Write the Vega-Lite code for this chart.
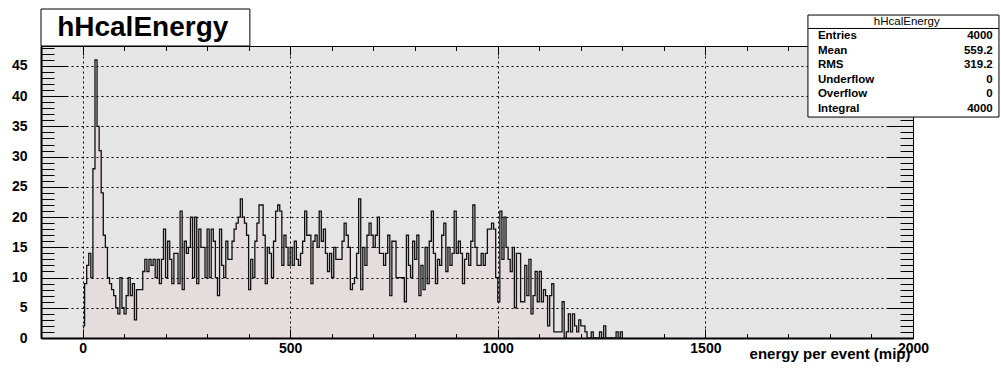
{
"$schema": "https://vega.github.io/schema/vega-lite/v6.json",
"width": 872, "height": 292,
"autosize": {"type": "none"},
"padding": {"left": 41, "top": 46, "right": 88, "bottom": 35},
"background": "white",
"config": {"view": {"fill": "#e5e5e5", "stroke": "#000", "strokeWidth": 1}, "font": "Liberation Sans"},
"datasets": {
"hist": [
{"energy":0,"count":2},{"energy":5,"count":9},{"energy":10,"count":12},{"energy":15,"count":14},{"energy":20,"count":10},{"energy":25,"count":28},{"energy":30,"count":46},{"energy":35,"count":35},{"energy":40,"count":31},{"energy":45,"count":24},
{"energy":50,"count":17},{"energy":55,"count":15},{"energy":60,"count":10},{"energy":65,"count":9},{"energy":70,"count":8},{"energy":75,"count":7},{"energy":80,"count":5},{"energy":85,"count":4},{"energy":90,"count":10},{"energy":95,"count":5},
{"energy":100,"count":4},{"energy":105,"count":7},{"energy":110,"count":10},{"energy":115,"count":7},{"energy":120,"count":9},{"energy":125,"count":3},{"energy":130,"count":8},{"energy":135,"count":8},{"energy":140,"count":8},{"energy":145,"count":11},
{"energy":150,"count":13},{"energy":155,"count":11},{"energy":160,"count":13},{"energy":165,"count":12},{"energy":170,"count":13},{"energy":175,"count":10},{"energy":180,"count":13},{"energy":185,"count":9},{"energy":190,"count":13},{"energy":195,"count":18},
{"energy":200,"count":10},{"energy":205,"count":16},{"energy":210,"count":13},{"energy":215,"count":9},{"energy":220,"count":14},{"energy":225,"count":14},{"energy":230,"count":9},{"energy":235,"count":21},{"energy":240,"count":8},{"energy":245,"count":16},
{"energy":250,"count":14},{"energy":255,"count":15},{"energy":260,"count":20},{"energy":265,"count":10},{"energy":270,"count":20},{"energy":275,"count":9},{"energy":280,"count":18},{"energy":285,"count":15},{"energy":290,"count":15},{"energy":295,"count":10},
{"energy":300,"count":18},{"energy":305,"count":10},{"energy":310,"count":18},{"energy":315,"count":16},{"energy":320,"count":10},{"energy":325,"count":7},{"energy":330,"count":18},{"energy":335,"count":12},{"energy":340,"count":10},{"energy":345,"count":16},
{"energy":350,"count":13},{"energy":355,"count":13},{"energy":360,"count":16},{"energy":365,"count":18},{"energy":370,"count":19},{"energy":375,"count":20},{"energy":380,"count":23},{"energy":385,"count":20},{"energy":390,"count":19},{"energy":395,"count":17},
{"energy":400,"count":8},{"energy":405,"count":13},{"energy":410,"count":10},{"energy":415,"count":16},{"energy":420,"count":19},{"energy":425,"count":22},{"energy":430,"count":22},{"energy":435,"count":17},{"energy":440,"count":9},{"energy":445,"count":15},
{"energy":450,"count":14},{"energy":455,"count":10},{"energy":460,"count":16},{"energy":465,"count":21},{"energy":470,"count":22},{"energy":475,"count":21},{"energy":480,"count":12},{"energy":485,"count":17},{"energy":490,"count":15},{"energy":495,"count":12},
{"energy":500,"count":15},{"energy":505,"count":12},{"energy":510,"count":16},{"energy":515,"count":13},{"energy":520,"count":12},{"energy":525,"count":14},{"energy":530,"count":16},{"energy":535,"count":21},{"energy":540,"count":17},{"energy":545,"count":17},
{"energy":550,"count":9},{"energy":555,"count":16},{"energy":560,"count":17},{"energy":565,"count":15},{"energy":570,"count":21},{"energy":575,"count":16},{"energy":580,"count":18},{"energy":585,"count":14},{"energy":590,"count":11},{"energy":595,"count":14},
{"energy":600,"count":10},{"energy":605,"count":15},{"energy":610,"count":13},{"energy":615,"count":13},{"energy":620,"count":13},{"energy":625,"count":16},{"energy":630,"count":19},{"energy":635,"count":17},{"energy":640,"count":15},{"energy":645,"count":8},
{"energy":650,"count":9},{"energy":655,"count":10},{"energy":660,"count":14},{"energy":665,"count":23},{"energy":670,"count":8},{"energy":675,"count":15},{"energy":680,"count":12},{"energy":685,"count":17},{"energy":690,"count":19},{"energy":695,"count":17},
{"energy":700,"count":15},{"energy":705,"count":17},{"energy":710,"count":20},{"energy":715,"count":14},{"energy":720,"count":14},{"energy":725,"count":12},{"energy":730,"count":14},{"energy":735,"count":17},{"energy":740,"count":7},{"energy":745,"count":16},
{"energy":750,"count":16},{"energy":755,"count":10},{"energy":760,"count":10},{"energy":765,"count":10},{"energy":770,"count":10},{"energy":775,"count":6},{"energy":780,"count":17},{"energy":785,"count":12},{"energy":790,"count":10},{"energy":795,"count":16},
{"energy":800,"count":13},{"energy":805,"count":17},{"energy":810,"count":7},{"energy":815,"count":12},{"energy":820,"count":8},{"energy":825,"count":15},{"energy":830,"count":9},{"energy":835,"count":16},{"energy":840,"count":21},{"energy":845,"count":14},
{"energy":850,"count":9},{"energy":855,"count":13},{"energy":860,"count":12},{"energy":865,"count":17},{"energy":870,"count":19},{"energy":875,"count":11},{"energy":880,"count":15},{"energy":885,"count":12},{"energy":890,"count":14},{"energy":895,"count":21},
{"energy":900,"count":14},{"energy":905,"count":16},{"energy":910,"count":14},{"energy":915,"count":9},{"energy":920,"count":13},{"energy":925,"count":14},{"energy":930,"count":12},{"energy":935,"count":16},{"energy":940,"count":22},{"energy":945,"count":15},
{"energy":950,"count":12},{"energy":955,"count":12},{"energy":960,"count":14},{"energy":965,"count":12},{"energy":970,"count":14},{"energy":975,"count":18},{"energy":980,"count":18},{"energy":985,"count":19},{"energy":990,"count":18},{"energy":995,"count":10},
{"energy":1000,"count":6},{"energy":1005,"count":21},{"energy":1010,"count":13},{"energy":1015,"count":20},{"energy":1020,"count":15},{"energy":1025,"count":13},{"energy":1030,"count":11},{"energy":1035,"count":15},{"energy":1040,"count":5},{"energy":1045,"count":14},
{"energy":1050,"count":14},{"energy":1055,"count":6},{"energy":1060,"count":6},{"energy":1065,"count":12},{"energy":1070,"count":7},{"energy":1075,"count":13},{"energy":1080,"count":4},{"energy":1085,"count":7},{"energy":1090,"count":11},{"energy":1095,"count":6},
{"energy":1100,"count":11},{"energy":1105,"count":6},{"energy":1110,"count":8},{"energy":1115,"count":7},{"energy":1120,"count":2},{"energy":1125,"count":7},{"energy":1130,"count":9},{"energy":1135,"count":1},{"energy":1140,"count":1},{"energy":1145,"count":1},
{"energy":1150,"count":1},{"energy":1155,"count":6},{"energy":1160,"count":0},{"energy":1165,"count":1},{"energy":1170,"count":4},{"energy":1175,"count":1},{"energy":1180,"count":4},{"energy":1185,"count":2},{"energy":1190,"count":1},{"energy":1195,"count":3},
{"energy":1200,"count":2},{"energy":1205,"count":2},{"energy":1210,"count":1},{"energy":1215,"count":0},{"energy":1220,"count":0},{"energy":1225,"count":1},{"energy":1230,"count":0},{"energy":1235,"count":0},{"energy":1240,"count":0},{"energy":1245,"count":1},
{"energy":1250,"count":0},{"energy":1255,"count":2},{"energy":1260,"count":0},{"energy":1265,"count":0},{"energy":1270,"count":0},{"energy":1275,"count":0},{"energy":1280,"count":0},{"energy":1285,"count":1},{"energy":1290,"count":0},{"energy":1295,"count":1},
{"energy":1300,"count":0}
],
"title": [{"name": "hHcalEnergy"}],
"stats": [{"header": "hHcalEnergy", "labels": ["Entries", "Mean", "RMS", "Underflow", "Overflow", "Integral"], "values": ["4000", "559.2", "319.2", "0", "0", "4000"]}]
},
"resolve": {"axis": {"x": "independent", "y": "independent"}},
"layer": [
{
"data": {"name": "hist"},
"mark": {"type": "area", "interpolate": "step-after", "fill": "#ff2020", "fillOpacity": 0.035},
"encoding": {
"x": {"field": "energy", "type": "quantitative", "scale": {"domain": [-100, 2000], "nice": false, "zero": false},
 "axis": {"orient": "bottom", "values": [0, 500, 1000, 1500, 2000], "format": "d", "ticks": false, "grid": true, "gridColor": "#000", "gridDash": [2, 3], "gridWidth": 1, "gridOpacity": 1,
  "domain": true, "domainColor": "#000", "domainWidth": 2, "labelFont": "Liberation Sans", "labelFontWeight": "bold", "labelFontSize": 14, "labelColor": "#000", "labelPadding": 3, "labelFlush": false, "labelOverlap": false,
  "title": "energy per event (mip)", "titleFont": "Liberation Sans", "titleFontWeight": "bold", "titleFontSize": 15, "titleColor": "#000", "titleAlign": "right", "titleAnchor": "end", "titleX": 869, "titleY": 20, "titleBaseline": "alphabetic"}},
"y": {"field": "count", "type": "quantitative", "scale": {"domain": [0, 48.3], "nice": false, "zero": true},
 "axis": {"orient": "left", "values": [0, 5, 10, 15, 20, 25, 30, 35, 40, 45], "format": "d", "ticks": false, "grid": true, "gridColor": "#000", "gridDash": [2, 3], "gridWidth": 1, "gridOpacity": 1,
  "domain": true, "domainColor": "#000", "domainWidth": 2, "labelFont": "Liberation Sans", "labelFontWeight": "bold", "labelFontSize": 14, "labelColor": "#000", "labelPadding": 14, "labelFlush": false, "labelOverlap": false, "title": null}}
}
},
{
"data": {"name": "hist"},
"mark": {"type": "line", "interpolate": "step-after", "stroke": "#111", "strokeWidth": 1.3},
"encoding": {
"x": {"field": "energy", "type": "quantitative", "scale": {"domain": [-100, 2000], "nice": false, "zero": false},
 "axis": {"orient": "top", "values": [0, 500, 1000, 1500, 2000], "labels": false, "grid": false, "domain": false, "tickSize": -9, "tickColor": "#000", "tickWidth": 1, "title": null}},
"y": {"field": "count", "type": "quantitative", "scale": {"domain": [0, 48.3], "nice": false, "zero": true},
 "axis": {"orient": "right", "values": [0, 5, 10, 15, 20, 25, 30, 35, 40, 45], "labels": false, "grid": false, "domain": false, "tickSize": -26, "tickColor": "#000", "tickWidth": 1, "title": null}}
}
},
{
"data": {"name": "title"},
"mark": {"type": "rect", "fill": "white", "stroke": "#000", "strokeWidth": 1},
"encoding": {
"x": {"datum": -100, "type": "quantitative", "scale": {"domain": [-100, 2000], "nice": false, "zero": false},
 "axis": {"orient": "bottom", "values": [0, 500, 1000, 1500, 2000], "labels": false, "grid": false, "domain": false, "tickSize": -9, "tickColor": "#000", "tickWidth": 1, "title": null}},
"x2": {"datum": 403},
"y": {"datum": 48.3, "type": "quantitative", "scale": {"domain": [0, 48.3], "nice": false, "zero": true},
 "axis": {"orient": "left", "values": [0, 5, 10, 15, 20, 25, 30, 35, 40, 45], "labels": false, "grid": false, "domain": false, "tickSize": -26, "tickColor": "#000", "tickWidth": 1, "title": null}},
"y2": {"datum": 54.42}
}
},
{
"data": {"name": "title"},
"mark": {"type": "text", "font": "Liberation Sans", "fontWeight": "bold", "fontSize": 28, "align": "center", "baseline": "alphabetic", "color": "#000"},
"encoding": {
"text": {"field": "name", "type": "nominal"},
"x": {"datum": 145, "type": "quantitative", "scale": {"domain": [-100, 2000], "nice": false, "zero": false},
 "axis": {"orient": "bottom", "values": [-100, 0, 100, 200, 300, 400, 500, 600, 700, 800, 900, 1000, 1100, 1200, 1300, 1400, 1500, 1600, 1700, 1800, 1900, 2000], "labels": false, "grid": false, "domain": false, "tickSize": -4.5, "tickColor": "#000", "tickWidth": 1, "title": null}},
"y": {"datum": 49.95, "type": "quantitative", "scale": {"domain": [0, 48.3], "nice": false, "zero": true},
 "axis": {"orient": "left", "values": [0,1,2,3,4,5,6,7,8,9,10,11,12,13,14,15,16,17,18,19,20,21,22,23,24,25,26,27,28,29,30,31,32,33,34,35,36,37,38,39,40,41,42,43,44,45,46,47,48], "labels": false, "grid": false, "domain": false, "tickSize": -13, "tickColor": "#000", "tickWidth": 1, "title": null}}
}
},
{
"data": {"name": "stats"},
"mark": {"type": "rect", "fill": "white", "stroke": "#000", "strokeWidth": 1},
"encoding": {
"x": {"datum": 1747, "type": "quantitative", "scale": {"domain": [-100, 2000], "nice": false, "zero": false},
 "axis": {"orient": "top", "values": [-100, 0, 100, 200, 300, 400, 500, 600, 700, 800, 900, 1000, 1100, 1200, 1300, 1400, 1500, 1600, 1700, 1800, 1900, 2000], "labels": false, "grid": false, "domain": false, "tickSize": -4.5, "tickColor": "#000", "tickWidth": 1, "title": null}},
"x2": {"datum": 2207},
"y": {"datum": 36.55, "type": "quantitative", "scale": {"domain": [0, 48.3], "nice": false, "zero": true},
 "axis": {"orient": "right", "values": [0,1,2,3,4,5,6,7,8,9,10,11,12,13,14,15,16,17,18,19,20,21,22,23,24,25,26,27,28,29,30,31,32,33,34,35,36,37,38,39,40,41,42,43,44,45,46,47,48], "labels": false, "grid": false, "domain": false, "tickSize": -13, "tickColor": "#000", "tickWidth": 1, "title": null}},
"y2": {"datum": 53.42}
}
},
{
"data": {"name": "stats"},
"mark": {"type": "rule", "stroke": "#000", "strokeWidth": 1},
"encoding": {
"x": {"datum": 1747, "type": "quantitative", "axis": null},
"x2": {"datum": 2207},
"y": {"datum": 51.2, "type": "quantitative", "axis": null}
}
},
{
"data": {"name": "stats"},
"mark": {"type": "text", "font": "Liberation Sans", "fontSize": 11.5, "align": "center", "baseline": "alphabetic", "color": "#000"},
"encoding": {
"text": {"field": "header", "type": "nominal"},
"x": {"datum": 1985, "type": "quantitative", "axis": null},
"y": {"datum": 51.7, "type": "quantitative", "axis": null}
}
},
{
"data": {"name": "stats"},
"mark": {"type": "text", "font": "Liberation Sans", "fontWeight": "bold", "fontSize": 11.5, "align": "left", "baseline": "middle", "lineHeight": 14.6, "color": "#000"},
"encoding": {
"text": {"field": "labels", "type": "nominal"},
"x": {"datum": 1771, "type": "quantitative", "axis": null},
"y": {"datum": 49.95, "type": "quantitative", "axis": null}
}
},
{
"data": {"name": "stats"},
"mark": {"type": "text", "font": "Liberation Sans", "fontWeight": "bold", "fontSize": 11.5, "align": "right", "baseline": "middle", "lineHeight": 14.6, "color": "#000"},
"encoding": {
"text": {"field": "values", "type": "nominal"},
"x": {"datum": 2192, "type": "quantitative", "axis": null},
"y": {"datum": 49.95, "type": "quantitative", "axis": null}
}
}
]
}
